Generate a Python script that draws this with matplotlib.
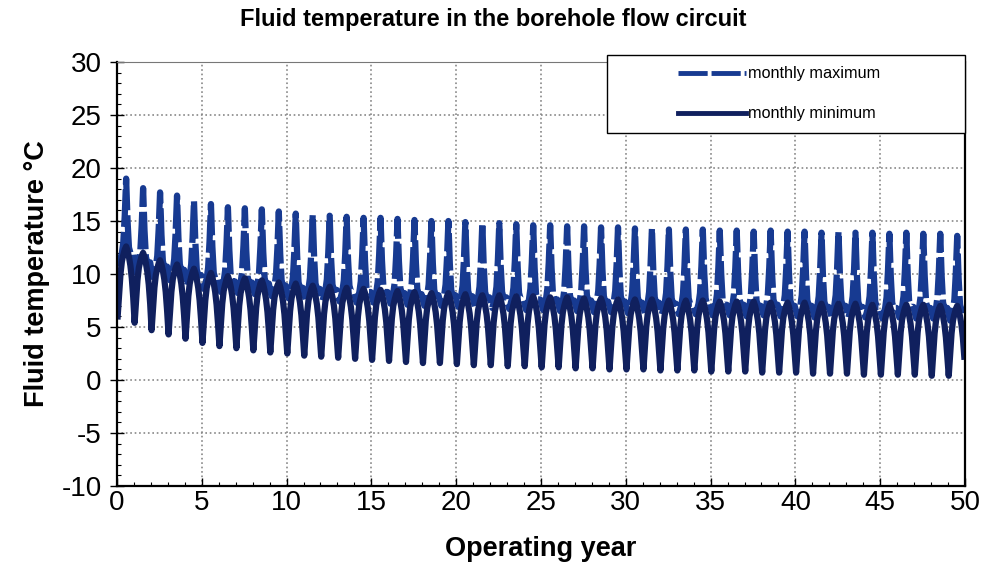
import numpy as np
import matplotlib
matplotlib.use('Agg')
import matplotlib.pyplot as plt
from matplotlib.patches import Rectangle
from matplotlib.ticker import MultipleLocator

# yearly summer peak of the monthly maximum (deg C), years 0..49
max_peak = [19.0, 18.1, 17.7, 17.4, 16.9, 16.6, 16.3, 16.2, 16.1, 15.9,
            15.7, 15.6, 15.5, 15.4, 15.3, 15.3, 15.2, 15.1, 15.0, 15.0,
            14.9, 14.8, 14.8, 14.7, 14.6, 14.6, 14.5, 14.5, 14.4, 14.4,
            14.3, 14.3, 14.2, 14.2, 14.2, 14.1, 14.1, 14.0, 14.1, 14.0,
            14.0, 13.9, 14.0, 13.9, 13.9, 13.8, 13.9, 13.8, 13.8, 13.6]
# yearly winter trough of the monthly minimum (deg C)
min_trough = [6.0, 5.4, 4.7, 4.3, 3.9, 3.5, 3.2, 3.0, 2.8, 2.6,
              2.5, 2.3, 2.2, 2.1, 2.0, 1.9, 1.8, 1.7, 1.6, 1.6,
              1.5, 1.4, 1.4, 1.3, 1.3, 1.2, 1.2, 1.1, 1.1, 1.0,
              1.0, 1.0, 0.9, 0.9, 0.9, 0.8, 0.8, 0.8, 0.7, 0.7,
              0.7, 0.6, 0.6, 0.6, 0.5, 0.5, 0.5, 0.5, 0.4, 0.4]
# month by month offsets (Jan..Dec)
max_month = [-7.5, -8.0, -7.5, -7.0, -6.0, -3.5, 0.0, -4.0, -6.5, -7.0, -7.0, -7.0]
min_month = [0.0, 2.0, 4.0, 5.2, 5.8, 6.3, 6.6, 6.2, 5.6, 4.8, 3.6, 1.8]

t = []
vmax = []
vmin = []
for y in range(len(max_peak)):
    for m in range(12):
        t.append(y + m / 12 + 1 / 24)
        vmax.append(max_peak[y] + max_month[m])
        vmin.append(min_trough[y] + min_month[m])

plt.rcParams['font.family'] = ['Liberation Sans', 'DejaVu Sans']
plt.rcParams['axes.unicode_minus'] = False

fig = plt.figure(figsize=(9.87, 5.73), dpi=100)
ax = fig.add_axes([0.1185, 0.1518, 0.8592, 0.74])

ax.plot(t, vmax, color='#173a91', lw=4.5, ls=(0, (6, 0.8)), label='monthly maximum')
ax.plot(t, vmin, color='#10205e', lw=4.5, label='monthly minimum')

ax.set_xlim(0, 50)
ax.set_ylim(-10, 30)
ax.xaxis.set_major_locator(MultipleLocator(5))
ax.xaxis.set_minor_locator(MultipleLocator(1))
ax.yaxis.set_major_locator(MultipleLocator(5))
ax.yaxis.set_minor_locator(MultipleLocator(1))
ax.tick_params(which='both', direction='in', labelsize=20)
ax.tick_params(axis='x', which='major', length=6, width=1, pad=3)
ax.tick_params(axis='y', which='major', direction='inout', length=10, width=1, pad=6)
ax.tick_params(which='minor', length=3, width=0.8)
ax.grid(True, which='major', color='#888888', ls=':', lw=1.2)

for s in ['left', 'bottom', 'right']:
    ax.spines[s].set_linewidth(1.6)
ax.spines['top'].set_color('#777777')

ax.set_xlabel('Operating year', fontsize=19.5, fontweight='bold', labelpad=14)
ax.set_ylabel('Fluid temperature °C', fontsize=19.5, fontweight='bold', labelpad=8)
fig.text(0.5, 0.966, 'Fluid temperature in the borehole flow circuit',
         ha='center', va='center', fontsize=17, fontweight='bold')

# legend box
fig.patches.append(Rectangle((0.615, 0.768), 0.363, 0.136, transform=fig.transFigure,
                             facecolor='white', edgecolor='black', lw=1.0, zorder=5))
leg = fig.legend(loc='upper left', bbox_to_anchor=(0.672, 0.91), frameon=False,
                 fontsize=11.7, handlelength=4.2, handletextpad=0.1, labelspacing=1.55)
leg.set_zorder(6)
for line in leg.get_lines():
    line.set_linewidth(3.5)

fig.savefig('out.png', dpi=100)
